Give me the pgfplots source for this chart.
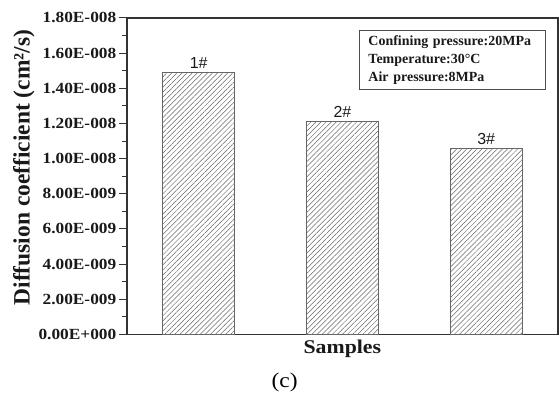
\documentclass[border=0pt]{standalone}
\usepackage{fontspec}
\setmainfont{Liberation Serif}
\newfontfamily\arialfont{Liberation Sans}
\newfontfamily\stretchfont{Liberation Serif}[FakeStretch=1.12]
\usepackage{pgfplots}
\pgfplotsset{compat=1.18}
\usetikzlibrary{patterns.meta}
\begin{document}
\begin{tikzpicture}
\begin{axis}[
  width=432pt, height=317pt, scale only axis,
  xmin=0.5, xmax=3.5, ymin=0, ymax=1.8e-8,
  xtick=\empty,
  ytick={0,2e-9,4e-9,6e-9,8e-9,1e-8,1.2e-8,1.4e-8,1.6e-8,1.8e-8},
  yticklabels={0.00E+000,2.00E-009,4.00E-009,6.00E-009,8.00E-009,1.00E-008,1.20E-008,1.40E-008,1.60E-008,1.80E-008},
  scaled y ticks=false,
  minor y tick num=1,
  tick align=outside,
  major tick length=8pt, minor tick length=4.5pt,
  ytick pos=left,
  axis line style={line width=1.6pt, color=black!80},
  every tick/.style={line width=1pt, black!80},
  yticklabel style={font=\stretchfont\bfseries\fontsize{15.5}{15.5}\selectfont, text=black!90, xshift=1pt},
  /pgf/number format/assume math mode=true,
  clip=false,
  ylabel={Diffusion coefficient (cm²/s)},
  ylabel style={font=\bfseries\fontsize{23.5}{23.5}\selectfont, at={(rel axis cs:-0.2384,0.527)}, anchor=center, text=black!90},
  xlabel={Samples},
  xlabel style={font=\stretchfont\bfseries\fontsize{19.5}{19.5}\selectfont, at={(rel axis cs:0.5,-0.045)}, anchor=center, text=black!90},
  ybar, bar width=72pt,
  nodes near coords,
  point meta=explicit symbolic,
  every node near coord/.append style={font=\arialfont\fontsize{16}{16}\selectfont, text=black!90},
]
\addplot[draw=black!60, line width=0.8pt, pattern={Lines[angle=45,distance=3.6pt,line width=0.5pt]}, pattern color=black!60]
  coordinates {(1,1.49e-8) [1\#] (2,1.21e-8) [2\#] (3,1.06e-8) [3\#]};
\coordinate (bl) at (rel axis cs:0,0);
\coordinate (tr) at (rel axis cs:1,1);
\node[draw=black!70, line width=0.6pt, anchor=north west, align=left, inner xsep=9pt, inner ysep=5pt,
  font=\bfseries\fontsize{14}{18}\selectfont, text width=168pt, text=black!90]
  at (rel axis cs:0.539,0.962) {Confining pressure:20MPa\\Temperature:30°C\\Air pressure:8MPa};
\node[font=\stretchfont\fontsize{21}{21}\selectfont, anchor=center] at (rel axis cs:0.366,-0.151) {(c)};
\end{axis}
\pgfresetboundingbox
\path ([shift={(-127pt,-63pt)}]bl) rectangle ([shift={(1pt,18pt)}]tr);
\end{tikzpicture}
\end{document}
